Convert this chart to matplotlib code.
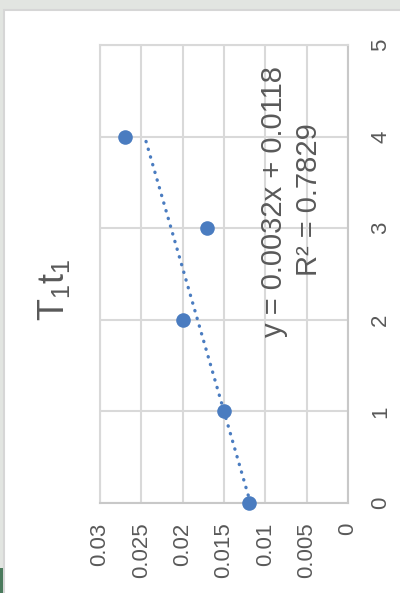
import numpy as np
import matplotlib
matplotlib.use("Agg")
import matplotlib.pyplot as plt
from matplotlib.patches import Rectangle

plt.rcParams['font.family'] = ['Liberation Sans', 'DejaVu Sans']
plt.rcParams['mathtext.fontset'] = 'custom'
plt.rcParams['mathtext.rm'] = 'Liberation Sans'
plt.rcParams['mathtext.it'] = 'Liberation Sans'

# data series T1t1
x_vals = [0, 1, 2, 3, 4]
y_vals = [0.012, 0.015, 0.020, 0.017, 0.027]
value_ticks = [0, 0.005, 0.01, 0.015, 0.02, 0.025, 0.03]
value_tick_labels = ["0", "0.005", "0.01", "0.015", "0.02", "0.025", "0.03"]
x_ticks = [0, 1, 2, 3, 4, 5]
x_tick_labels = ["0", "1", "2", "3", "4", "5"]
title = r"$\mathregular{T_1t_1}$"

W, H = 400, 593
fig = plt.figure(figsize=(W / 100, H / 100), dpi=100)
fig.patch.set_facecolor('#e2e5e1')

def px(x, y):
    return x / W, 1 - y / H

# chart area (white card with light border)
card = Rectangle(px(4, 600), (W + 10) / W, 600 / H - 10 / H, transform=fig.transFigure,
                 facecolor='white', edgecolor='#d6d6d6', lw=1.5, zorder=-3)
fig.patches.append(card)
fig.patches.append(Rectangle(px(0, 593), 3 / W, 25 / H, transform=fig.transFigure,
                             facecolor='#4a7a5c', edgecolor='none', zorder=-2))

# plot area: chart drawn turned a quarter-turn, value axis runs right-to-left
l, t = px(100, 45)
r, b = px(348, 503)
ax = fig.add_axes([l, b, r - l, t - b])
ax.set_zorder(2)
ax.set_facecolor('white')
ax.set_xlim(0.03, 0)
ax.set_ylim(0, 5)

ax.set_xticks(value_ticks)
ax.set_xticklabels(value_tick_labels, rotation=90, ha='center', va='top')
ax.set_yticks(x_ticks)
ax.set_yticklabels(x_tick_labels, rotation=90, ha='left', va='center')
ax.yaxis.tick_right()
ax.tick_params(axis='x', length=0, pad=14, labelsize=16, labelcolor='#595959')
ax.tick_params(axis='y', length=0, pad=16, labelsize=16, labelcolor='#595959')

ax.grid(True, color='#d9d9d9', lw=1.5)
ax.set_axisbelow(True)
for s in ['left', 'top']:
    ax.spines[s].set_color('#d9d9d9')
    ax.spines[s].set_linewidth(1.5)
for s in ['right', 'bottom']:
    ax.spines[s].set_color('#c8c8c8')
    ax.spines[s].set_linewidth(1.5)

# linear trendline through the points
slope, intercept = np.polyfit(x_vals, y_vals, 1)
pred = np.polyval([slope, intercept], x_vals)
ss_res = np.sum((np.array(y_vals) - pred) ** 2)
ss_tot = np.sum((np.array(y_vals) - np.mean(y_vals)) ** 2)
r2 = 1 - ss_res / ss_tot
xt = np.array([min(x_vals), max(x_vals)])
ax.plot(np.polyval([slope, intercept], xt), xt, color='#4a7cc0', lw=2.4,
        linestyle=(0, (0.1, 2.3)), dash_capstyle='round', zorder=2)

ax.plot(y_vals, x_vals, 'o', color='#4a7cc0', markersize=10.5, zorder=3,
        markeredgewidth=0, clip_on=False)

# title and trendline equation
tx, ty = px(54, 290)
fig.text(tx, ty, title, rotation=90, ha='center', va='center', fontsize=26, color='#595959')
ex, ey = px(274, 201)
fig.text(ex, ey, f"y = {slope:.4f}x + {intercept:.4f}", rotation=90, ha='center',
         va='center', fontsize=21, color='#595959', zorder=5)
rx, ry = px(309, 200)
fig.text(rx, ry, f"R² = {r2:.4f}", rotation=90, ha='center', va='center',
         fontsize=21, color='#595959', zorder=5)

fig.savefig('out.png', dpi=100, facecolor=fig.get_facecolor())
